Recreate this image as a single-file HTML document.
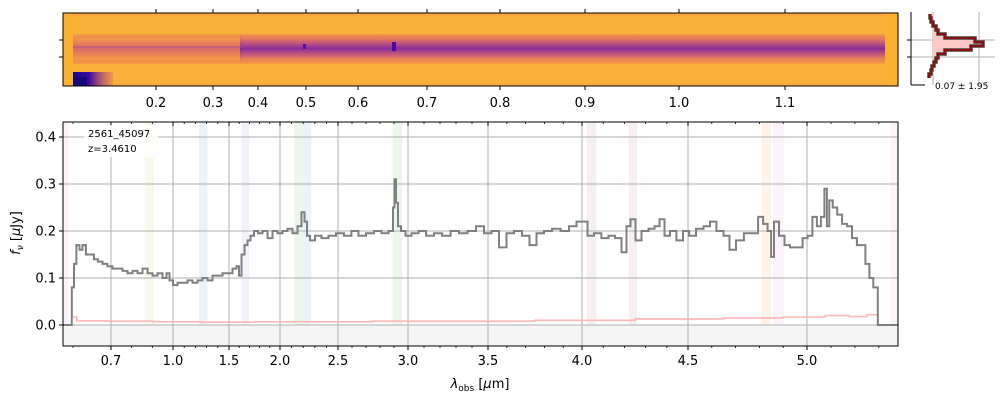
<!DOCTYPE html>
<html><head><meta charset="utf-8">
<style>
html,body{margin:0;padding:0;background:#fff;}
body{width:1000px;height:400px;overflow:hidden;font-family:"DejaVu Sans","Liberation Sans",sans-serif;}
svg text{font-family:"DejaVu Sans","Liberation Sans",sans-serif;}
</style></head>
<body>
<svg id="fig" width="1000" height="400" viewBox="0 0 1000 400" xmlns="http://www.w3.org/2000/svg">
  <defs>
    <linearGradient id="bandL" x1="0" y1="0" x2="0" y2="1">
      <stop offset="0" stop-color="#e8705e" stop-opacity="0"/>
      <stop offset="0.3" stop-color="#e0686a" stop-opacity="0.6"/>
      <stop offset="0.5" stop-color="#d05a78" stop-opacity="0.8"/>
      <stop offset="0.7" stop-color="#e0686a" stop-opacity="0.6"/>
      <stop offset="1" stop-color="#e8705e" stop-opacity="0"/>
    </linearGradient>
    <linearGradient id="bandR" x1="0" y1="0" x2="0" y2="1">
      <stop offset="0" stop-color="#d8507a" stop-opacity="0"/>
      <stop offset="0.25" stop-color="#c0448a" stop-opacity="0.7"/>
      <stop offset="0.5" stop-color="#8024a0" stop-opacity="0.95"/>
      <stop offset="0.75" stop-color="#c0448a" stop-opacity="0.7"/>
      <stop offset="1" stop-color="#d8507a" stop-opacity="0"/>
    </linearGradient>
    <linearGradient id="blob" x1="0" y1="0" x2="1" y2="0">
      <stop offset="0" stop-color="#1a0a8c"/>
      <stop offset="0.4" stop-color="#3a0a9c"/>
      <stop offset="1" stop-color="#c03c84" stop-opacity="0.2"/>
    </linearGradient>
  </defs>
  <g id="top-panel"></g>
  <g id="hist-panel"></g>
  <g id="main-panel"></g>
</svg>
<script>
// ---------- data ----------
const xTickValues = [0.7, 1.0, 1.5, 2.0, 2.5, 3.0, 3.5, 4.0, 4.5, 5.0];
const xTickLabels = ["0.7","1.0","1.5","2.0","2.5","3.0","3.5","4.0","4.5","5.0"];
const yTickValues = [0.0, 0.1, 0.2, 0.3, 0.4];
const yTickLabels = ["0.0","0.1","0.2","0.3","0.4"];
const topTickValues = [0.2,0.3,0.4,0.5,0.6,0.7,0.8,0.9,1.0,1.1];
const topTickLabels = ["0.2","0.3","0.4","0.5","0.6","0.7","0.8","0.9","1.0","1.1"];
const waveKnots = [0.58,0.60,0.7,1.0,1.5,2.0,2.5,3.0,3.5,4.0,4.5,5.0,5.38];
const topKnots = [0.2,0.3,0.4,0.5,0.6,0.7,0.8,0.9,1.0,1.1];
const wave = [0.58,0.595,0.600,0.605,0.613,0.621,0.629,0.639,0.650,0.660,0.671,0.684,0.697,0.719,0.743,0.768,0.792,0.816,0.840,0.865,0.889,0.913,0.937,0.961,0.976,0.990,1.018,1.063,1.107,1.152,1.196,1.241,1.286,1.330,1.375,1.420,1.464,1.510,1.559,1.588,1.608,1.637,1.667,1.696,1.725,1.765,1.804,1.853,1.902,1.951,2.000,2.043,2.086,2.129,2.172,2.198,2.224,2.241,2.276,2.328,2.388,2.448,2.514,2.571,2.621,2.671,2.729,2.786,2.836,2.886,2.900,2.907,2.921,2.936,2.964,3.000,3.044,3.088,3.138,3.188,3.238,3.294,3.344,3.400,3.450,3.500,3.537,3.580,3.617,3.660,3.702,3.739,3.777,3.819,3.862,3.910,3.952,3.989,4.014,4.038,4.075,4.108,4.142,4.170,4.203,4.217,4.241,4.264,4.297,4.330,4.354,4.377,4.401,4.429,4.462,4.491,4.517,4.550,4.580,4.605,4.634,4.664,4.685,4.718,4.752,4.782,4.807,4.824,4.845,4.853,4.870,4.895,4.916,4.941,4.971,4.992,5.012,5.033,5.050,5.066,5.079,5.087,5.099,5.116,5.136,5.157,5.178,5.198,5.219,5.236,5.252,5.269,5.285,5.306,5.38];
const flux = [0,0,0.08,0.13,0.17,0.16,0.17,0.15,0.15,0.14,0.135,0.13,0.125,0.12,0.12,0.115,0.11,0.115,0.11,0.12,0.11,0.105,0.11,0.10,0.11,0.095,0.085,0.09,0.09,0.095,0.09,0.095,0.10,0.095,0.105,0.105,0.11,0.11,0.12,0.125,0.105,0.15,0.17,0.18,0.19,0.20,0.195,0.20,0.185,0.20,0.195,0.20,0.205,0.195,0.21,0.24,0.22,0.19,0.18,0.19,0.185,0.19,0.195,0.19,0.20,0.19,0.195,0.20,0.195,0.20,0.25,0.31,0.26,0.21,0.20,0.19,0.195,0.20,0.19,0.195,0.19,0.20,0.195,0.20,0.21,0.195,0.20,0.165,0.195,0.20,0.19,0.17,0.195,0.20,0.205,0.20,0.21,0.22,0.22,0.19,0.195,0.185,0.19,0.185,0.155,0.21,0.225,0.18,0.20,0.205,0.21,0.225,0.19,0.20,0.18,0.20,0.19,0.205,0.21,0.22,0.20,0.19,0.16,0.18,0.195,0.195,0.23,0.215,0.20,0.145,0.22,0.19,0.17,0.165,0.165,0.185,0.19,0.23,0.21,0.23,0.29,0.21,0.265,0.25,0.235,0.215,0.21,0.185,0.17,0.17,0.13,0.10,0.08,0,0];
const errWave = [0.60,0.62,0.8,1.0,1.5,2.0,2.5,3.0,3.5,4.0,4.5,4.8,5.0,5.15,5.2,5.3];
const errFlux = [0.017,0.009,0.008,0.007,0.006,0.007,0.007,0.008,0.008,0.010,0.013,0.015,0.017,0.020,0.018,0.022];
const lineCenters = [0.585,0.885,1.27,1.66,2.16,2.235,2.925,4.045,4.24,4.83,4.88,5.365];
const lineWidths = [0.012,0.045,0.075,0.075,0.075,0.07,0.07,0.045,0.04,0.04,0.045,0.03];
const lineColors = ["#e377c2","#bcbd22","#1f77b4","#9467bd","#2ca02c","#1f77b4","#2ca02c","#8c564b","#8c564b","#ff7f0e","#e377c2","#e377c2"];
const histBins = [14,18,22,26,30,34,38,42,46,50,54,58,62,66,70,74,78];
const histDensity = [-3,-2,0,3,5,12,42,50,38,12,5,3,1,-1,-2,-4];

// ---------- helpers ----------
const NS = "http://www.w3.org/2000/svg";
function mk(tag, attrs, parent){ const e=document.createElementNS(NS,tag); for(const k in attrs) e.setAttribute(k,attrs[k]); parent.appendChild(e); return e; }
const main = document.getElementById('main-panel');
const topP = document.getElementById('top-panel');
const hist = document.getElementById('hist-panel');

const AX = {l:63, r:898, t:122, b:346};
const knotPx = [63,73,111,173,229,280,338,408,488,582,688,807,898];
function interp(v, xs, ys){
  if (v<=xs[0]) return ys[0]+(v-xs[0])*(ys[1]-ys[0])/(xs[1]-xs[0]);
  for(let i=1;i<xs.length;i++){ if(v<=xs[i]) return ys[i-1]+(v-xs[i-1])*(ys[i]-ys[i-1])/(xs[i]-xs[i-1]); }
  const n=xs.length-1; return ys[n]+(v-xs[n])*(ys[n]-ys[n-1])/(xs[n]-xs[n-1]);
}
function xScale(w){ return interp(w, waveKnots, knotPx); }
function yScale(f){ return 325 - f*470; }
const topPx = [156,213,258,306,358,427,500,585,679,785];
function topScale(w){ return interp(w, topKnots, topPx); }

// ---------- main panel ----------
let e = mk('rect',{x:AX.l,y:yScale(0),width:AX.r-AX.l,height:AX.b-yScale(0),fill:'#f5f5f5'},main);
 
lineCenters.forEach((c,i)=>{
  const x0=Math.max(AX.l,xScale(c-lineWidths[i]/2)), x1=Math.min(AX.r,xScale(c+lineWidths[i]/2));
  const r = mk('rect',{x:x0,y:AX.t,width:x1-x0,height:yScale(0)-AX.t,fill:lineColors[i],'fill-opacity':0.09},main);
  
  
});
xTickValues.forEach(v=>{
  const g=mk('line',{x1:xScale(v),x2:xScale(v),y1:AX.t,y2:AX.b,stroke:'#b0b0b0','stroke-width':1},main);
   
});
yTickValues.forEach(v=>{
  const g=mk('line',{x1:AX.l,x2:AX.r,y1:yScale(v),y2:yScale(v),stroke:'#b0b0b0','stroke-width':1},main);
   
});
function stepPath(xs, ys){
  let d='';
  for(let i=0;i<xs.length;i++){
    const xl = i===0 ? xScale(xs[0]) : (xScale(xs[i-1])+xScale(xs[i]))/2;
    const xr = i===xs.length-1 ? xScale(xs[i]) : (xScale(xs[i])+xScale(xs[i+1]))/2;
    const y = yScale(ys[i]);
    d += (i===0?'M':'L')+xl.toFixed(1)+','+y.toFixed(1)+' L'+xr.toFixed(1)+','+y.toFixed(1)+' ';
  }
  return d;
}
const ep = mk('path',{d:stepPath(errWave,errFlux),fill:'none',stroke:'#ffb6b6','stroke-width':1.6},main);
 
const fp = mk('path',{d:stepPath(wave,flux),fill:'none',stroke:'#808080','stroke-width':2},main);
 
e = mk('rect',{x:AX.l,y:AX.t,width:AX.r-AX.l,height:AX.b-AX.t,fill:'none',stroke:'#000','stroke-width':1},main);
 
xTickValues.forEach((v,i)=>{
  const x=xScale(v);
  mk('line',{x1:x,x2:x,y1:AX.b,y2:AX.b+4,stroke:'#000'},main);
  mk('line',{x1:x,x2:x,y1:AX.t,y2:AX.t+4,stroke:'#000'},main);
  const t=mk('text',{x:x,y:AX.b+19,'font-size':13,'text-anchor':'middle',fill:'#000'},main);
  t.textContent=xTickLabels[i];
   
});
for(let w=0.6; w<5.4; w+=0.1){
  const x=xScale(w); if(x<AX.l||x>AX.r) continue;
  mk('line',{x1:x,x2:x,y1:AX.b,y2:AX.b+2,stroke:'#000','stroke-width':0.8},main);
  mk('line',{x1:x,x2:x,y1:AX.t,y2:AX.t+2,stroke:'#000','stroke-width':0.8},main);
}
yTickValues.forEach((v,i)=>{
  const y=yScale(v);
  mk('line',{x1:AX.l-4,x2:AX.l,y1:y,y2:y,stroke:'#000'},main);
  const t=mk('text',{x:AX.l-7,y:y+4.5,'font-size':13,'text-anchor':'end',fill:'#000'},main);
  t.textContent=yTickLabels[i];
   
});
e=mk('text',{x:480,y:388,'font-size':13,'text-anchor':'middle'},main);
e.innerHTML='<tspan font-style="italic">λ</tspan><tspan font-size="9" dy="3">obs</tspan><tspan dy="-3"> [</tspan><tspan font-style="italic">μ</tspan><tspan>m]</tspan>';
 
e=mk('text',{x:0,y:0,'font-size':13,'text-anchor':'middle',transform:'translate(20,233) rotate(-90)'},main);
e.innerHTML='<tspan font-style="italic">f</tspan><tspan font-size="9" font-style="italic" dy="3">ν</tspan><tspan dy="-3"> [</tspan><tspan font-style="italic">μ</tspan><tspan>Jy]</tspan>';
 
e=mk('rect',{x:84,y:125,width:74,height:32,fill:'#fff','fill-opacity':0.8},main);
e=mk('text',{x:88,y:137,'font-size':10},main); e.textContent='2561_45097';
 
e=mk('text',{x:88,y:152,'font-size':10},main); e.textContent='z=3.4610';
 

// ---------- top 2D panel ----------
const T={l:63,r:898,t:13,b:86};
e=mk('rect',{x:T.l,y:T.t,width:T.r-T.l,height:T.b-T.t,fill:'#f9a83c'},topP);
 
mk('rect',{x:73,y:16,width:812,height:20,fill:'#fbb83a','fill-opacity':0.55},topP);
mk('rect',{x:73,y:63,width:812,height:21,fill:'#fbb83a','fill-opacity':0.5},topP);
mk('rect',{x:73,y:34,width:812,height:4,fill:'#ec8050','fill-opacity':0.45},topP);
mk('rect',{x:73,y:60,width:812,height:4,fill:'#ec8050','fill-opacity':0.45},topP);
mk('rect',{x:73,y:34,width:170,height:29,fill:'url(#bandL)'},topP);
mk('rect',{x:240,y:34,width:645,height:29,fill:'url(#bandR)'},topP);
mk('rect',{x:73,y:46,width:170,height:2,fill:'#b04a88','fill-opacity':0.5},topP);
mk('rect',{x:73,y:72,width:40,height:14,fill:'url(#blob)'},topP);
mk('rect',{x:73,y:77,width:14,height:9,fill:'#14087c'},topP);
mk('rect',{x:392,y:42,width:4,height:9,fill:'#4a0aa0'},topP);
mk('rect',{x:303,y:44,width:3,height:5,fill:'#5a10a0'},topP);
mk('rect',{x:T.l,y:T.t,width:10,height:T.b-T.t,fill:'#fbb030'},topP);
mk('rect',{x:885,y:T.t,width:13,height:T.b-T.t,fill:'#fbb030'},topP);
mk('rect',{x:T.l,y:T.t,width:T.r-T.l,height:T.b-T.t,fill:'none',stroke:'#000'},topP);
topTickValues.forEach((v,i)=>{
  const x=topScale(v);
  mk('line',{x1:x,x2:x,y1:T.b,y2:T.b+4,stroke:'#000'},topP);
  mk('line',{x1:x,x2:x,y1:T.t-4,y2:T.t,stroke:'#000'},topP);
  const t=mk('text',{x:x,y:T.b+21,'font-size':13,'text-anchor':'middle'},topP);
  t.textContent=topTickLabels[i];
   
});
[40,57].forEach(y=>mk('line',{x1:T.l-4,x2:T.l,y1:y,y2:y,stroke:'#000'},topP));

// ---------- histogram panel ----------
const H={l:911,b:85,t:12,base:933};
[933,979].forEach(x=>mk('line',{x1:x,x2:x,y1:H.t,y2:H.b,stroke:'#b0b0b0'},hist));
[40,57].forEach(y=>{mk('line',{x1:H.l,x2:995,y1:y,y2:y,stroke:'#b0b0b0'},hist); mk('line',{x1:H.l-4,x2:H.l,y1:y,y2:y,stroke:'#000'},hist);});
let hd='M'+H.base+','+histBins[0];
let od='';
histDensity.forEach((c,i)=>{
  const x=H.base+c;
  hd+=' L'+x+','+histBins[i]+' L'+x+','+histBins[i+1];
  od+=(i===0?'M':'L')+x+','+histBins[i]+' L'+x+','+histBins[i+1]+' ';
});
hd+=' L'+H.base+','+histBins[histBins.length-1]+' Z';
e=mk('path',{d:hd,fill:'#ffc8c8',stroke:'none'},hist);
 
e=mk('path',{d:od,fill:'none',stroke:'#444','stroke-width':3.5},hist);
e=mk('path',{d:od,fill:'none',stroke:'#8b1010','stroke-width':2},hist);
 
mk('line',{x1:H.l,x2:H.l,y1:H.t,y2:H.b,stroke:'#000'},hist);
mk('line',{x1:H.l,x2:925,y1:H.b,y2:H.b,stroke:'#000'},hist);
e=mk('text',{x:935,y:89,'font-size':9},hist); e.textContent='0.07 ± 1.95';
 
</script>
</body></html>
